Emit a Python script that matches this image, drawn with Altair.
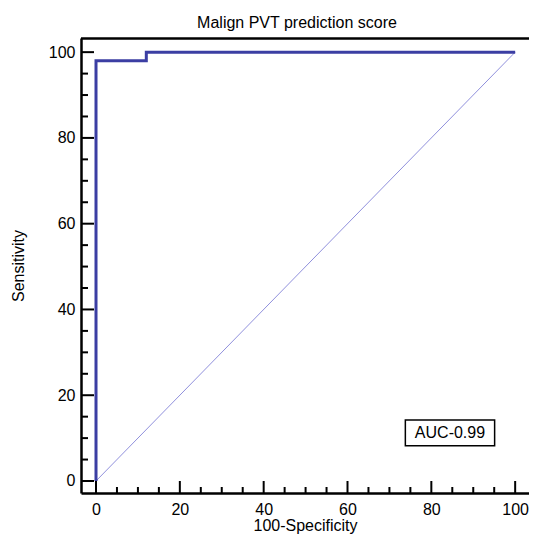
import altair as alt
import pandas as pd

# ROC curve vertices (100-Specificity, Sensitivity)
roc_fpr = [0, 0, 12, 12, 100]
roc_tpr = [0, 98, 98, 100, 100]
diag_x = [0, 100]
diag_y = [0, 100]
major_ticks = [0, 20, 40, 60, 80, 100]
minor_ticks = [5, 10, 15, 25, 30, 35, 45, 50, 55, 65, 70, 75, 85, 90, 95]
auc_label = "AUC-0.99"

W, H = 448, 455
FONT = "Liberation Sans"

roc = pd.DataFrame({"x": roc_fpr, "y": roc_tpr, "o": list(range(len(roc_fpr)))})
diag = pd.DataFrame({"x": diag_x, "y": diag_y})
maj = pd.DataFrame({"t": major_ticks})
mnr = pd.DataFrame({"t": minor_ticks})

xs = alt.Scale(domain=[-3.58, 103.3], nice=False, zero=False)
ys = alt.Scale(domain=[-2.8, 103.3], nice=False, zero=False)

axis_common = dict(values=major_ticks, grid=False, ticks=False, tickSize=0,
                   domainColor="black", domainWidth=2.5,
                   labelFont=FONT, labelFontSize=16, labelColor="black",
                   titleFont=FONT, titleFontSize=16, titleColor="black",
                   titleFontWeight="normal")

xaxis = alt.Axis(title="100-Specificity", labelPadding=8, titlePadding=0, **axis_common)
yaxis = alt.Axis(title="Sensitivity", labelPadding=6, titlePadding=22, **axis_common)

diag_layer = alt.Chart(diag).mark_line(color="#9090dc", strokeWidth=1).encode(
    x=alt.X("x:Q", scale=xs, axis=xaxis),
    y=alt.Y("y:Q", scale=ys, axis=yaxis),
)

roc_layer = alt.Chart(roc).mark_line(color="#3b3ea3", strokeWidth=3, strokeJoin="miter", strokeCap="butt").encode(
    x=alt.X("x:Q", scale=xs),
    y=alt.Y("y:Q", scale=ys),
    order="o:Q",
)

tick_color = "black"
xmaj = alt.Chart(maj).mark_rule(color=tick_color, strokeWidth=2).encode(
    x=alt.X("t:Q", scale=xs), y=alt.value(H), y2=alt.value(H - 12))
xmin = alt.Chart(mnr).mark_rule(color=tick_color, strokeWidth=2).encode(
    x=alt.X("t:Q", scale=xs), y=alt.value(H), y2=alt.value(H - 6))
ymaj = alt.Chart(maj).mark_rule(color=tick_color, strokeWidth=2).encode(
    y=alt.Y("t:Q", scale=ys), x=alt.value(0), x2=alt.value(13))
ymin = alt.Chart(mnr).mark_rule(color=tick_color, strokeWidth=2).encode(
    y=alt.Y("t:Q", scale=ys), x=alt.value(0), x2=alt.value(7))

top_border = alt.Chart(maj.head(1)).mark_rule(color="black", strokeWidth=2.5).encode(
    y=alt.value(0.5))

box_df = pd.DataFrame({"x": [73.8], "x2": [95.1], "y": [8.2], "y2": [14.2],
                       "xc": [84.45], "yc": [11.2], "label": [auc_label]})
box = alt.Chart(box_df).mark_rect(fill="white", stroke="black", strokeWidth=1.5).encode(
    x=alt.X("x:Q", scale=xs), x2="x2:Q", y=alt.Y("y:Q", scale=ys), y2="y2:Q")
box_text = alt.Chart(box_df).mark_text(font=FONT, fontSize=16, color="black",
                                       align="center", baseline="middle").encode(
    x=alt.X("xc:Q", scale=xs), y=alt.Y("yc:Q", scale=ys), text="label:N")

chart = alt.layer(diag_layer, roc_layer, xmaj, xmin, ymaj, ymin, top_border, box, box_text).properties(
    width=W, height=H,
    title=alt.TitleParams("Malign PVT prediction score", font=FONT, fontSize=16,
                          fontWeight="normal", color="black", dx=-8, offset=6),
    autosize=alt.AutoSizeParams(type="none"),
    padding={"left": 73, "top": 30, "right": 0, "bottom": 44},
).configure_view(stroke=None)

chart.save("out.html", embed_options={"renderer": "svg", "actions": False})
